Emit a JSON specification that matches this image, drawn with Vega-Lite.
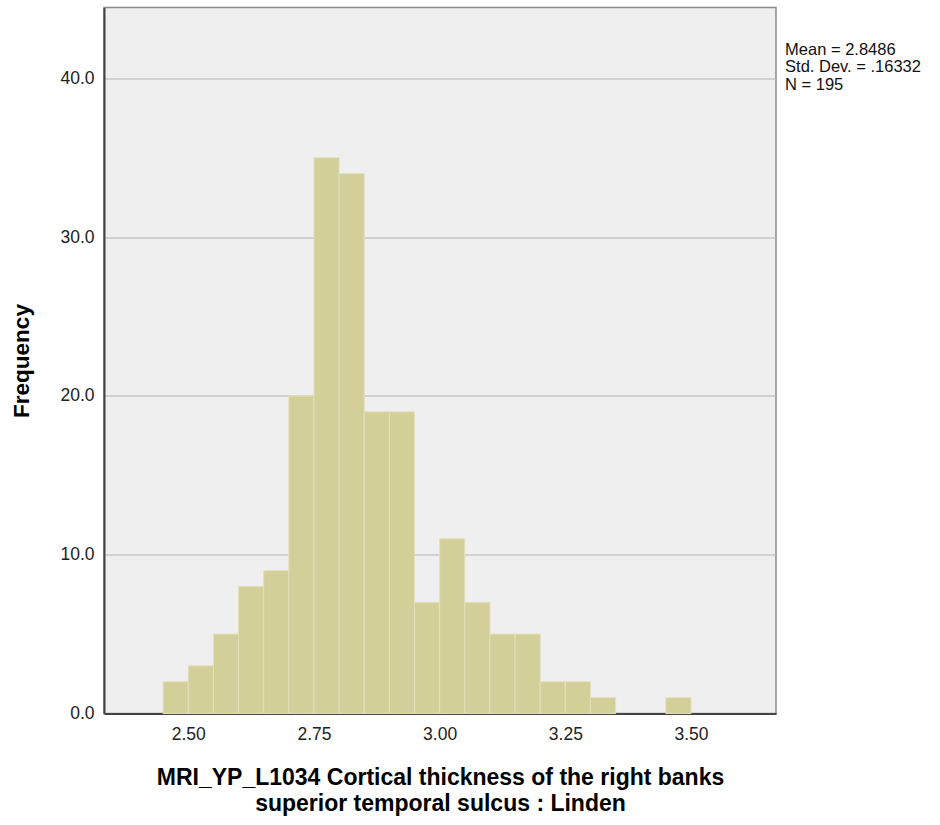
{
  "$schema": "https://vega.github.io/schema/vega-lite/v6.json",
  "width": 672,
  "height": 706,
  "autosize": {"type": "none"},
  "padding": {"left": 104, "top": 7.5, "right": 164, "bottom": 112},
  "background": "white",
  "config": {
    "view": {"fill": "#efefef", "stroke": "#8a8a8a", "strokeWidth": 1.5},
    "font": "Liberation Sans"
  },
  "datasets": {
    "bins": [
      {"bin_start": 2.45, "bin_end": 2.50, "count": 2},
      {"bin_start": 2.50, "bin_end": 2.55, "count": 3},
      {"bin_start": 2.55, "bin_end": 2.60, "count": 5},
      {"bin_start": 2.60, "bin_end": 2.65, "count": 8},
      {"bin_start": 2.65, "bin_end": 2.70, "count": 9},
      {"bin_start": 2.70, "bin_end": 2.75, "count": 20},
      {"bin_start": 2.75, "bin_end": 2.80, "count": 35},
      {"bin_start": 2.80, "bin_end": 2.85, "count": 34},
      {"bin_start": 2.85, "bin_end": 2.90, "count": 19},
      {"bin_start": 2.90, "bin_end": 2.95, "count": 19},
      {"bin_start": 2.95, "bin_end": 3.00, "count": 7},
      {"bin_start": 3.00, "bin_end": 3.05, "count": 11},
      {"bin_start": 3.05, "bin_end": 3.10, "count": 7},
      {"bin_start": 3.10, "bin_end": 3.15, "count": 5},
      {"bin_start": 3.15, "bin_end": 3.20, "count": 5},
      {"bin_start": 3.20, "bin_end": 3.25, "count": 2},
      {"bin_start": 3.25, "bin_end": 3.30, "count": 2},
      {"bin_start": 3.30, "bin_end": 3.35, "count": 1},
      {"bin_start": 3.45, "bin_end": 3.50, "count": 1}
    ],
    "stats": [
      {"label": "Mean = 2.8486\nStd. Dev. = .16332\nN = 195"}
    ]
  },
  "layer": [
    {
      "data": {"name": "bins"},
      "mark": {"type": "bar", "fill": "#d3cf98", "stroke": "#e3e0bb", "strokeWidth": 1, "binSpacing": 0},
      "encoding": {
        "x": {
          "field": "bin_start",
          "type": "quantitative",
          "scale": {"domain": [2.3324, 3.669], "nice": false, "zero": false},
          "axis": {
            "values": [2.5, 2.75, 3.0, 3.25, 3.5],
            "format": ".2f",
            "grid": false,
            "ticks": false,
            "labelFontSize": 17.5,
            "labelColor": "#222",
            "labelPadding": 12,
            "domainColor": "#444",
            "domainWidth": 2,
            "title": ["MRI_YP_L1034 Cortical thickness of the right banks", "superior temporal sulcus : Linden"],
            "titleFontSize": 23,
            "titleFontWeight": "bold",
            "titleColor": "#000",
            "titlePadding": 23,
            "titleLineHeight": 26
          }
        },
        "x2": {"field": "bin_end"},
        "y": {
          "field": "count",
          "type": "quantitative",
          "scale": {"domain": [0, 44.46], "nice": false},
          "axis": {
            "values": [0, 10, 20, 30, 40],
            "format": ".1f",
            "grid": true,
            "gridColor": "#b4b4b4",
            "gridWidth": 1.2,
            "ticks": false,
            "labelFontSize": 17.5,
            "labelColor": "#222",
            "labelPadding": 10,
            "domainColor": "#444",
            "domainWidth": 2,
            "title": "Frequency",
            "titleFontSize": 22.5,
            "titleFontWeight": "bold",
            "titleColor": "#000",
            "titlePadding": 26
          }
        },
        "y2": {"datum": 0}
      }
    },
    {
      "data": {"name": "stats"},
      "mark": {"type": "text", "align": "left", "baseline": "top", "lineBreak": "\n", "fontSize": 16.5, "lineHeight": 17.5, "color": "#111", "clip": false},
      "encoding": {
        "text": {"field": "label"},
        "x": {"datum": 3.687, "type": "quantitative"},
        "y": {"datum": 42.3, "type": "quantitative"}
      }
    }
  ]
}
